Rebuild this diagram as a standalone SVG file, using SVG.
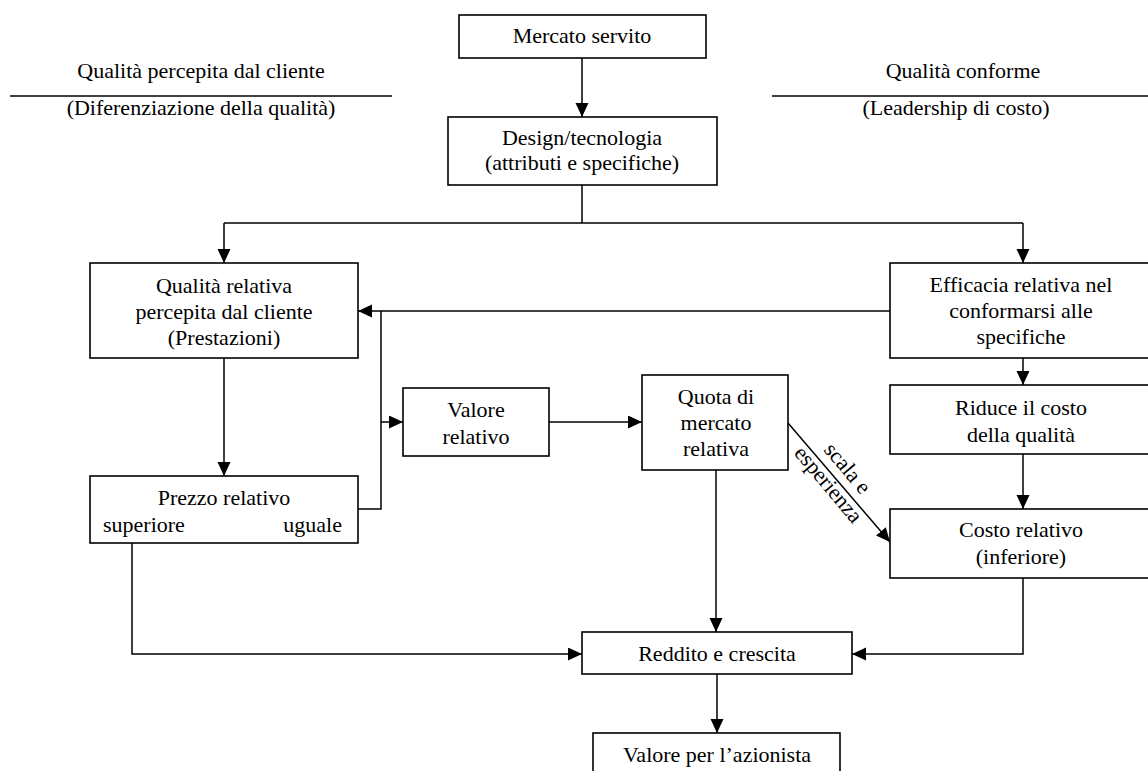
<svg xmlns="http://www.w3.org/2000/svg" width="1148" height="771" viewBox="0 0 1148 771">
<style>
text{font-family:"Liberation Serif","Times New Roman",serif;font-size:22px;fill:#000;text-anchor:middle}
.box{fill:#fff;stroke:#000;stroke-width:1.6}
.ln{fill:none;stroke:#000;stroke-width:1.5}
.arr{marker-end:url(#ah)}
</style>
<defs>
<marker id="ah" markerUnits="userSpaceOnUse" markerWidth="15" markerHeight="14" refX="14" refY="6.5" orient="auto">
<path d="M0,0 L14,6.5 L0,13 z" fill="#000"/>
</marker>
</defs>
<rect width="1148" height="771" fill="#fff"/>
<g id="header-left">
<text x="201" y="78">Qualità percepita dal cliente</text>
<line class="ln" x1="10" y1="96" x2="392" y2="96"/>
<text x="201" y="115">(Diferenziazione della qualità)</text>
</g>
<g id="header-right">
<text x="963" y="78">Qualità conforme</text>
<line class="ln" x1="772" y1="96" x2="1148" y2="96"/>
<text x="956" y="115">(Leadership di costo)</text>
</g>
<g id="connectors">
<path class="ln arr" d="M582,58 V117"/>
<path class="ln" d="M582,185 V223 M224,223 H1023"/>
<path class="ln arr" d="M224,223 V263"/>
<path class="ln arr" d="M1023,223 V263"/>
<path class="ln arr" d="M890,311 H358"/>
<path class="ln arr" d="M224,358 V476"/>
<path class="ln" d="M358,509 H381 V311"/>
<path class="ln arr" d="M381,422 H403"/>
<path class="ln arr" d="M549,422 H642"/>
<path class="ln arr" d="M788,423 L890,542"/>
<path class="ln arr" d="M1023,358 V385"/>
<path class="ln arr" d="M1023,454 V509"/>
<path class="ln arr" d="M716,470 V632"/>
<path class="ln arr" d="M132,543 V654 H582"/>
<path class="ln arr" d="M1023,578 V654 H852"/>
<path class="ln arr" d="M717,674 V733"/>
<g transform="translate(836,478) rotate(50)">
<text x="0" y="-8">scala e</text>
<text x="0" y="17">esperienza</text>
</g>
</g>
<g id="mercato">
<rect class="box" x="459" y="15" width="247" height="43"/>
<text x="582" y="43">Mercato servito</text>
</g>
<g id="design">
<rect class="box" x="448" y="117" width="269" height="68"/>
<text x="582" y="145">Design/tecnologia</text>
<text x="582" y="170">(attributi e specifiche)</text>
</g>
<g id="qualita">
<rect class="box" x="90" y="263" width="268" height="95"/>
<text x="224" y="293">Qualità relativa</text>
<text x="224" y="319">percepita dal cliente</text>
<text x="224" y="345">(Prestazioni)</text>
</g>
<g id="prezzo">
<rect class="box" x="90" y="476" width="268" height="67"/>
<text x="224" y="505">Prezzo relativo</text>
<text x="103" y="532" style="text-anchor:start">superiore</text>
<text x="342" y="532" style="text-anchor:end">uguale</text>
</g>
<g id="valore">
<rect class="box" x="403" y="388" width="146" height="68"/>
<text x="476" y="417">Valore</text>
<text x="476" y="444">relativo</text>
</g>
<g id="quota">
<rect class="box" x="642" y="375" width="146" height="95"/>
<text x="716" y="404">Quota di</text>
<text x="716" y="430">mercato</text>
<text x="716" y="456">relativa</text>
</g>
<g id="efficacia">
<rect class="box" x="890" y="263" width="264" height="95"/>
<text x="1021" y="292">Efficacia relativa nel</text>
<text x="1021" y="318">conformarsi alle</text>
<text x="1021" y="344">specifiche</text>
</g>
<g id="riduce">
<rect class="box" x="890" y="385" width="264" height="69"/>
<text x="1021" y="415">Riduce il costo</text>
<text x="1021" y="442">della qualità</text>
</g>
<g id="costo">
<rect class="box" x="890" y="509" width="264" height="69"/>
<text x="1021" y="537">Costo relativo</text>
<text x="1021" y="564">(inferiore)</text>
</g>
<g id="reddito">
<rect class="box" x="582" y="632" width="270" height="42"/>
<text x="717" y="661">Reddito e crescita</text>
</g>
<g id="azionista">
<rect class="box" x="593" y="733" width="247" height="50"/>
<text x="717" y="762">Valore per l’azionista</text>
</g>
</svg>
